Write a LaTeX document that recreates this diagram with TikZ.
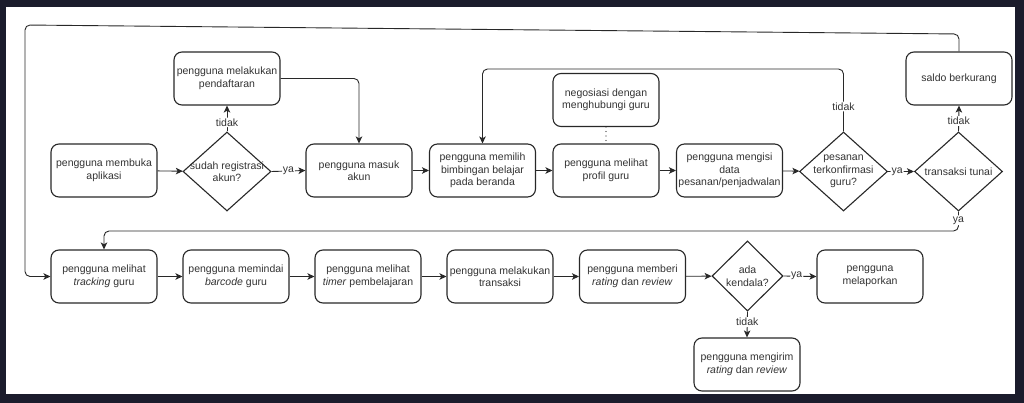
\documentclass[tikz,border=0pt]{standalone}
\usepackage{fontspec}
\setmainfont{Liberation Sans}
\usetikzlibrary{shapes.geometric,arrows.meta}
\definecolor{bgdark}{RGB}{27,28,44}
\definecolor{linec}{RGB}{40,40,40}
\definecolor{txt}{RGB}{51,51,51}
\newcommand\dfont{\fontsize{10.5}{12.5}\selectfont}
\tikzset{
  box/.style={draw=linec, line width=1.1pt, rounded corners=8pt, minimum width=106pt, minimum height=53pt, align=center, text=txt, inner sep=1pt, font=\dfont},
  dia/.style={draw=linec, line width=1.1pt, shape=diamond, inner sep=0pt, minimum width=88pt, minimum height=79pt},
  dtext/.style={align=center, text=txt, font=\dfont},
  arr/.style={draw=linec, line width=0.9pt, -{Stealth[length=7pt,width=6.5pt,inset=1.8pt]}, rounded corners=5pt},
  lbl/.style={fill=white, font=\dfont, text=txt, inner sep=1pt},
}
\begin{document}
\begin{tikzpicture}[x=1pt,y=-1pt]
\useasboundingbox (0,0) rectangle (1024,403);
\fill[bgdark] (0,0) rectangle (1024,403);
\fill[white] (6,7) rectangle (1015,394);
% row 1
\node[box] (buka) at (104,170.5) {pengguna membuka\\aplikasi};
\node[dia, label={[dtext]center:sudah registrasi\\akun?}] (d1) at (227,171.5) {};
\node[box] (daftar) at (227,78.5) {pengguna melakukan\\pendaftaran};
\node[box] (masuk) at (359,170.5) {pengguna masuk\\akun};
\node[box] (memilih) at (482.5,170.5) {pengguna memilih\\bimbingan belajar\\pada beranda};
\node[box] (profil) at (606,170.5) {pengguna melihat\\profil guru};
\node[box] (nego) at (606,100) {negosiasi dengan\\menghubungi guru};
\node[box] (isi) at (729.5,170.5) {pengguna mengisi\\data\\pesanan/penjadwalan};
\node[dia, label={[dtext]center:pesanan\\terkonfirmasi\\guru?}] (d2) at (843.5,171.5) {};
\node[dia, label={[dtext]center:transaksi tunai}] (tunai) at (958.5,171.5) {};
\node[box] (saldo) at (959,78.5) {saldo berkurang};
% row 2
\node[box] (track) at (104,276.5) {pengguna melihat\\\textit{tracking} guru};
\node[box] (barcode) at (236,276.5) {pengguna memindai\\\textit{barcode} guru};
\node[box] (timer) at (368,276.5) {pengguna melihat\\\textit{timer} pembelajaran};
\node[box] (trans) at (500,276.5) {pengguna melakukan\\transaksi};
\node[box] (beri) at (632.5,276.5) {pengguna memberi\\\textit{rating} dan \textit{review}};
\node[dia, minimum width=71pt, minimum height=70pt, label={[dtext]center:ada\\kendala?}] (d3) at (747.5,276) {};
\node[box] (lapor) at (870,276.5) {pengguna\\melaporkan};
\node[box] (kirim) at (747,364.5) {pengguna mengirim\\\textit{rating} dan \textit{review}};
% helper coordinates
\coordinate (tl) at (25,25);
\coordinate (tr) at (959,34);
\coordinate (loopy) at (0,69);
\coordinate (yay) at (0,231);
% connectors row 1
\draw[arr] (buka) -- (d1);
\draw[arr] (d1.north) -- node[lbl,pos=0.35]{tidak} (daftar.south);
\draw[arr] (d1.east) -- node[lbl]{ya} (masuk.west);
\draw[arr] (daftar.east) -| (masuk.north);
\draw[arr] (masuk) -- (memilih);
\draw[arr] (memilih) -- (profil);
\draw[draw=linec, line width=1.3pt, line cap=round, dash pattern=on 0pt off 4.5pt] (nego.south) -- (profil.north);
\draw[arr] (profil) -- (isi);
\draw[arr] (isi) -- (d2);
\draw[arr] (d2.north) -- node[lbl,pos=0.4]{tidak} (d2.north |- loopy) -| (memilih.north);
\draw[arr] (d2.east) -- node[lbl,pos=0.35]{ya} (tunai.west);
\draw[arr] (tunai.north) -- node[lbl,pos=0.4]{tidak} (saldo.south);
\draw[arr] (saldo.north) -- (tr) -- (tl) -- (tl |- track.west) -- (track.west);
\draw[arr] (tunai.south) -- node[lbl,pos=0.45]{ya} (tunai.south |- yay) -| (track.north);
% connectors row 2
\draw[arr] (track) -- (barcode);
\draw[arr] (barcode) -- (timer);
\draw[arr] (timer) -- (trans);
\draw[arr] (trans) -- (beri);
\draw[arr] (beri) -- (d3);
\draw[arr] (d3.east) -- node[lbl,pos=0.4]{ya} (lapor.west);
\draw[arr] (d3.south) -- node[lbl,pos=0.4]{tidak} (kirim.north);
\end{tikzpicture}
\end{document}
